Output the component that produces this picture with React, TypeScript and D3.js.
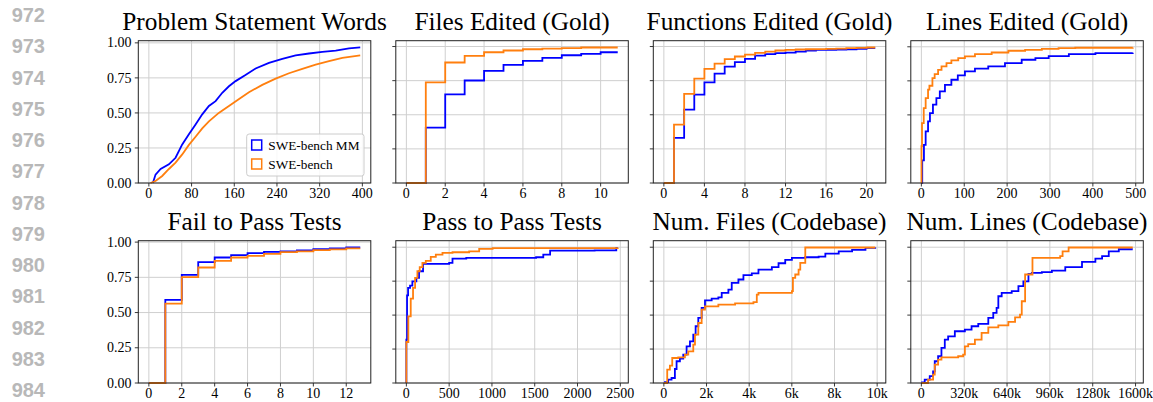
import React from "react";
import * as d3 from "d3";

type Pt = [number, number];

// ---------- text ----------
const panelTitles = [
  "Problem Statement Words",
  "Files Edited (Gold)",
  "Functions Edited (Gold)",
  "Lines Edited (Gold)",
  "Fail to Pass Tests",
  "Pass to Pass Tests",
  "Num. Files (Codebase)",
  "Num. Lines (Codebase)",
];
const seriesNames = ["SWE-bench MM", "SWE-bench"];
const lineNumbers = [972, 973, 974, 975, 976, 977, 978, 979, 980, 981, 982, 983, 984];
const yTicks = [0, 0.25, 0.5, 0.75, 1.0];

// ---------- x ticks ----------
const wordsTicks = [0, 80, 160, 240, 320, 400];
const filesTicks = [0, 2, 4, 6, 8, 10];
const funcsTicks = [0, 4, 8, 12, 16, 20];
const linesTicks = [0, 100, 200, 300, 400, 500];
const f2pTicks = [0, 2, 4, 6, 8, 10, 12];
const p2pTicks = [0, 500, 1000, 1500, 2000, 2500];
const codeFilesTicks = [0, 2000, 4000, 6000, 8000, 10000];
const codeLinesTicks = [0, 320000, 640000, 960000, 1280000, 1600000];

// ---------- CDF data (x, cumulative fraction) ----------
const wordsMM: Pt[] = [
  [7.5, 0], [12.5, 0.06], [22, 0.1], [37.5, 0.133], [50, 0.18], [62.5, 0.275], [75, 0.347],
  [87.5, 0.418], [100, 0.49], [112.5, 0.55], [125, 0.584], [137.5, 0.644], [150, 0.69],
  [162.5, 0.727], [181, 0.77], [200, 0.817], [225, 0.857], [250, 0.886], [275, 0.91],
  [300, 0.924], [325, 0.936], [350, 0.945], [375, 0.96], [396, 0.967],
];
const wordsSB: Pt[] = [
  [3, 0], [12.5, 0.014], [25, 0.05], [37.5, 0.1], [50, 0.145], [62.5, 0.204], [75, 0.272],
  [87.5, 0.33], [100, 0.39], [112.5, 0.44], [131, 0.5], [150, 0.55], [169, 0.6],
  [187.5, 0.648], [212.5, 0.7], [237.5, 0.745], [262.5, 0.783], [287.5, 0.815],
  [312.5, 0.845], [337.5, 0.869], [362.5, 0.893], [396, 0.91],
];

const filesMM: Pt[] = [
  [0, 0], [1, 0.406], [2, 0.65], [3, 0.751], [4, 0.822], [5, 0.866], [6, 0.895],
  [7, 0.917], [8, 0.936], [9, 0.946], [10, 0.958], [10.88, 0.958],
];
const filesSB: Pt[] = [
  [0, 0], [1, 0.738], [2, 0.883], [3, 0.932], [4, 0.958], [5, 0.971], [6, 0.98],
  [7, 0.985], [8, 0.988], [9, 0.993], [10, 0.993], [10.88, 0.993],
];

const funcsMM: Pt[] = [
  [0, 0], [1, 0.33], [2, 0.538], [3, 0.648], [4, 0.738], [5, 0.802], [6, 0.853], [7, 0.885],
  [8, 0.91], [9, 0.934], [10, 0.944], [11, 0.951], [12, 0.956], [13, 0.963], [14, 0.971],
  [15, 0.976], [16, 0.976], [17, 0.978], [18, 0.98], [19, 0.983], [20, 0.988], [20.85, 0.988],
];
const funcsSB: Pt[] = [
  [0, 0], [1, 0.428], [2, 0.653], [3, 0.765], [4, 0.836], [5, 0.875], [6, 0.907], [7, 0.927],
  [8, 0.941], [9, 0.954], [10, 0.963], [11, 0.971], [12, 0.976], [13, 0.978], [14, 0.98],
  [15, 0.981], [16, 0.983], [17, 0.985], [18, 0.988], [19, 0.99], [20, 0.993], [20.85, 0.993],
];

const linesMM: Pt[] = [
  [0, 0], [2, 0.166], [6, 0.28], [10, 0.379], [15.6, 0.452], [20, 0.513], [27, 0.575],
  [35, 0.623], [43, 0.672], [55, 0.721], [70, 0.758], [85, 0.79], [101.6, 0.819],
  [125, 0.839], [156, 0.856], [195, 0.88], [234, 0.905], [266, 0.917], [297, 0.932],
  [344, 0.946], [406, 0.954], [493, 0.956],
];
const linesSB: Pt[] = [
  [0, 0], [0.3, 0.27], [1.5, 0.44], [5.5, 0.55], [10, 0.623], [15.6, 0.685], [18.75, 0.714],
  [25.8, 0.77], [31, 0.8], [39, 0.831], [47, 0.856], [58.6, 0.88], [70, 0.9], [86, 0.917],
  [101.6, 0.929], [125, 0.946], [164, 0.958], [203, 0.971], [242, 0.978], [281, 0.985],
  [320, 0.99], [359, 0.993], [493, 0.995],
];

const f2pMM: Pt[] = [
  [0, 0], [1, 0.59], [2, 0.768], [3, 0.858], [4, 0.891], [5, 0.908], [6, 0.922], [7, 0.931],
  [8, 0.934], [9, 0.941], [10, 0.95], [11, 0.955], [12, 0.962], [12.85, 0.962],
];
const f2pSB: Pt[] = [
  [0, 0], [1, 0.564], [2, 0.751], [3, 0.82], [4, 0.867], [5, 0.891], [6, 0.903], [7, 0.917],
  [8, 0.929], [9, 0.934], [10, 0.943], [11, 0.948], [12, 0.955], [12.85, 0.955],
];

const p2pMM: Pt[] = [
  [0, 0], [0, 0.32], [8, 0.646], [20, 0.7], [43, 0.717], [70, 0.749], [117, 0.774],
  [148, 0.823], [195, 0.877], [500, 0.885], [539, 0.916], [700, 0.921], [1516, 0.926],
  [1600, 0.945], [1680, 0.975], [2200, 0.977], [2453, 0.995], [2470, 0.995],
];
const p2pSB: Pt[] = [
  [0, 0], [0, 0.302], [23, 0.491], [51, 0.622], [78, 0.7], [102, 0.774], [129, 0.823],
  [156, 0.853], [187.5, 0.885], [227, 0.9], [285, 0.929], [344, 0.946], [422, 0.958],
  [539, 0.963], [734, 0.97], [851, 0.988], [1008, 0.993], [2470, 0.998],
];

const codeFilesMM: Pt[] = [
  [0, 0], [50, 0.007], [200, 0.025], [360, 0.037], [517, 0.103], [596, 0.16], [752, 0.18],
  [909, 0.209], [1066, 0.27], [1223, 0.307], [1379, 0.356], [1489, 0.418], [1614, 0.479],
  [1771, 0.553], [1928, 0.609], [2241, 0.622], [2555, 0.631], [2712, 0.663], [3025, 0.688],
  [3182, 0.737], [3495, 0.762], [3730, 0.794], [4122, 0.808], [4435, 0.835], [5063, 0.853],
  [5376, 0.882], [5690, 0.907], [6003, 0.921], [6630, 0.926], [7257, 0.931], [7571, 0.953],
  [8198, 0.97], [8825, 0.98], [9452, 0.995], [9910, 0.998],
];
const codeFilesSB: Pt[] = [
  [0, 0], [157, 0.098], [282, 0.128], [392, 0.184], [674, 0.189], [987, 0.209], [1144, 0.233],
  [1379, 0.283], [1458, 0.356], [1614, 0.442], [1771, 0.54], [1928, 0.565], [2555, 0.577],
  [3339, 0.587], [4200, 0.595], [4357, 0.651], [4435, 0.663], [6003, 0.676], [6050, 0.774],
  [6160, 0.799], [6317, 0.835], [6395, 0.885], [6630, 0.998], [9910, 0.998],
];

const codeLinesMM: Pt[] = [
  [0, 0], [5000, 0.005], [25000, 0.025], [62500, 0.05], [87500, 0.086], [100000, 0.16],
  [125000, 0.197], [150000, 0.258], [175000, 0.319], [200000, 0.344], [250000, 0.381],
  [325000, 0.393], [375000, 0.418], [425000, 0.435], [500000, 0.479], [537000, 0.516],
  [562000, 0.553], [575000, 0.639], [600000, 0.663], [675000, 0.676], [725000, 0.713],
  [762000, 0.749], [800000, 0.803], [825000, 0.811], [900000, 0.816], [975000, 0.828],
  [1075000, 0.853], [1200000, 0.892], [1300000, 0.916], [1350000, 0.934], [1400000, 0.97],
  [1475000, 0.985], [1579000, 0.985],
];
const codeLinesSB: Pt[] = [
  [0, 0], [50000, 0.025], [87500, 0.061], [100000, 0.135], [125000, 0.172], [150000, 0.189],
  [275000, 0.197], [312000, 0.209], [325000, 0.27], [350000, 0.287], [400000, 0.319],
  [450000, 0.369], [500000, 0.41], [575000, 0.425], [650000, 0.45], [700000, 0.484],
  [737000, 0.504], [750000, 0.602], [775000, 0.799], [830000, 0.921], [1037000, 0.934],
  [1055000, 0.97], [1100000, 0.998], [1579000, 0.998],
];

// ---------- layout ----------
const W = 1153;
const H = 402;
const colLeft = [138.3, 395.8, 653.3, 910.8];
const rowTop = [40.7, 240.7];
const panelW = 232.5;
const panelH = 142.3;
const MM_COLOR = "#0000ff";
const SB_COLOR = "#ff7f0e";
const SERIF = "'Liberation Serif', 'Times New Roman', serif";

const kFmt = (v: number) => (v === 0 ? "0" : `${v / 1000}k`);
const plainFmt = (v: number) => `${v}`;

const panels = [
  { mm: wordsMM, sb: wordsSB, ticks: wordsTicks, fmt: plainFmt, step: false },
  { mm: filesMM, sb: filesSB, ticks: filesTicks, fmt: plainFmt, step: true },
  { mm: funcsMM, sb: funcsSB, ticks: funcsTicks, fmt: plainFmt, step: true },
  { mm: linesMM, sb: linesSB, ticks: linesTicks, fmt: plainFmt, step: true },
  { mm: f2pMM, sb: f2pSB, ticks: f2pTicks, fmt: plainFmt, step: true },
  { mm: p2pMM, sb: p2pSB, ticks: p2pTicks, fmt: plainFmt, step: true },
  { mm: codeFilesMM, sb: codeFilesSB, ticks: codeFilesTicks, fmt: kFmt, step: true },
  { mm: codeLinesMM, sb: codeLinesSB, ticks: codeLinesTicks, fmt: kFmt, step: true },
];

function Panel({ idx }: { idx: number }) {
  const p = panels[idx];
  const row = Math.floor(idx / 4);
  const col = idx % 4;
  const left = colLeft[col];
  const top = rowTop[row];
  const bottom = top + panelH;
  const right = left + panelW;
  const all = [...p.mm, ...p.sb];
  const xMax = d3.max(all, (d) => d[0]) as number;
  const yMax = d3.max(all, (d) => d[1]) as number;
  const x = d3.scaleLinear().domain([-0.05 * xMax, 1.05 * xMax]).range([left, right]);
  const y = d3.scaleLinear().domain([0, 1.05 * yMax]).range([bottom, top]);
  const line = d3
    .line<Pt>()
    .x((d) => x(d[0]))
    .y((d) => y(d[1]))
    .curve(p.step ? d3.curveStepAfter : d3.curveLinear);
  const cx = (left + right) / 2;
  return (
    <g>
      <text x={cx} y={top - 10.7} textAnchor="middle" fontFamily={SERIF} fontSize={25.3} fill="#000">
        {panelTitles[idx]}
      </text>
      {/* grid */}
      {yTicks.map((t) => (
        <line key={"gy" + t} x1={left} x2={right} y1={y(t)} y2={y(t)} stroke="#cfcfcf" strokeWidth={1} />
      ))}
      {p.ticks.map((t) => (
        <line key={"gx" + t} x1={x(t)} x2={x(t)} y1={top} y2={bottom} stroke="#cfcfcf" strokeWidth={1} />
      ))}
      {/* series */}
      <path d={line(p.mm) || ""} fill="none" stroke={MM_COLOR} strokeWidth={1.8} strokeLinejoin="miter" />
      <path d={line(p.sb) || ""} fill="none" stroke={SB_COLOR} strokeWidth={1.8} strokeLinejoin="miter" />
      {/* frame */}
      <rect x={left} y={top} width={panelW} height={panelH} fill="none" stroke="#222" strokeWidth={1} />
      {/* y ticks */}
      {yTicks.map((t) => (
        <g key={"ty" + t}>
          <line x1={left - 3.5} x2={left} y1={y(t)} y2={y(t)} stroke="#222" strokeWidth={0.9} />
          {col === 0 && (
            <text x={left - 6.8} y={y(t)} dy="0.33em" textAnchor="end" fontFamily={SERIF} fontSize={14} fill="#000">
              {t.toFixed(2)}
            </text>
          )}
        </g>
      ))}
      {/* x ticks */}
      {p.ticks.map((t) => (
        <g key={"tx" + t}>
          <line x1={x(t)} x2={x(t)} y1={bottom} y2={bottom + 3.5} stroke="#222" strokeWidth={0.9} />
          <text x={x(t)} y={bottom + 14.6} textAnchor="middle" fontFamily={SERIF} fontSize={14} fill="#000">
            {p.fmt(t)}
          </text>
        </g>
      ))}
    </g>
  );
}

function Legend() {
  const lx = 246.7;
  const ly = 134;
  const colors = [MM_COLOR, SB_COLOR];
  return (
    <g>
      <rect x={lx} y={ly} width={117.3} height={42} rx={2.5} fill="#fff" fillOpacity={0.85} stroke="#cccccc" strokeWidth={1} />
      {seriesNames.map((n, i) => (
        <g key={n}>
          <rect x={lx + 5} y={ly + 6 + i * 19} width={10} height={10} fill="none" stroke={colors[i]} strokeWidth={1.5} />
          <text x={lx + 21.6} y={ly + 15.5 + i * 19} fontFamily={SERIF} fontSize={13.3} fill="#000">
            {n}
          </text>
        </g>
      ))}
    </g>
  );
}

export default function App() {
  return (
    <svg
      width={W}
      height={H}
      viewBox={`0 0 ${W} ${H}`}
      style={{ position: "absolute", left: 0, top: 0, background: "#fff" }}
    >
      <rect x={0} y={0} width={W} height={H} fill="#fff" />
      {lineNumbers.map((n, i) => (
        <text
          key={n}
          x={45}
          y={22 + i * 31.25}
          textAnchor="end"
          fontFamily="'Liberation Sans', Arial, sans-serif"
          fontWeight="bold"
          fontSize={20}
          fill="#b8b8b8"
        >
          {n}
        </text>
      ))}
      {panels.map((_, i) => (
        <Panel key={i} idx={i} />
      ))}
      <Legend />
    </svg>
  );
}
